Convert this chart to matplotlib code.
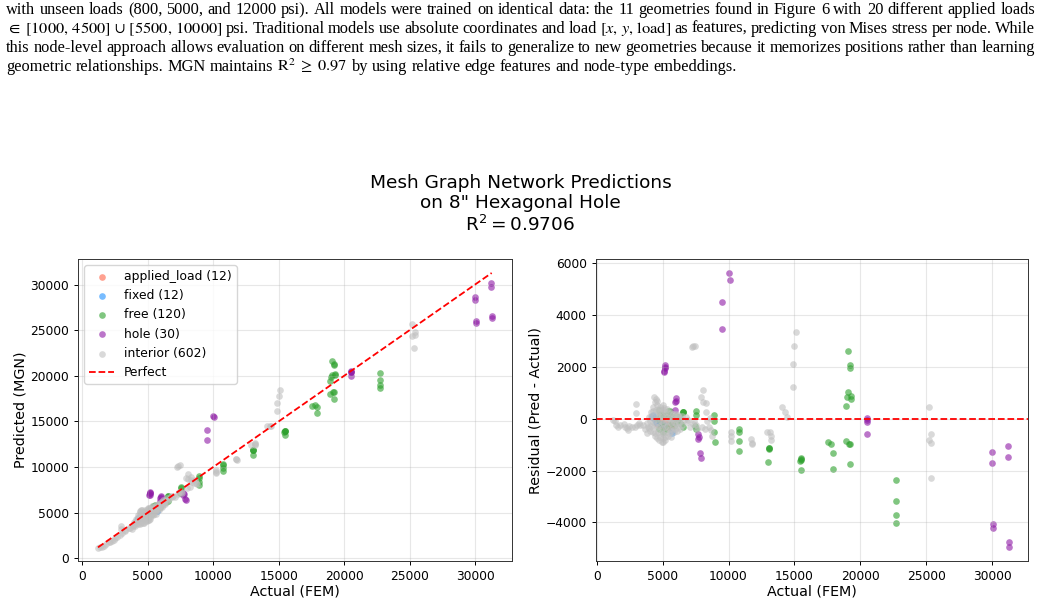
import matplotlib
matplotlib.use("Agg")
import matplotlib.pyplot as plt
import numpy as np

# ---------------- data (actual FEM stress, residual = predicted - actual) ----------------
categories = ["applied_load", "fixed", "free", "hole", "interior"]
node_counts = [12, 12, 120, 30, 602]
colors = ["tomato", "dodgerblue", "#2ca02c", "#8e1aa6", "silver"]

applied_actual = [4600, 4700, 4800, 4900, 5000, 5100, 5200, 5300, 5400, 5500, 5600, 5700]
applied_resid = [-200, -150, -250, -100, -200, -300, -150, -250, -200, -350, -300, -250]

fixed_actual = [4170, 4230, 4280, 4320, 4380, 4450, 4520, 4600, 4850, 5100, 5700, 5730]
fixed_resid = [50, 120, 150, 80, 20, -40, -120, -180, -220, -260, -480, -560]

free_actual = [19040, 19240, 19240, 19040, 18990, 19290, 18940, 19320,
               6530, 6510, 7520, 7520, 8910, 8910, 8910, 8940,
               10760, 10760, 10780, 10780,
               13040, 13040, 13010, 13060,
               15470, 15520, 15420, 15490, 15500,
               17570, 17750, 17900, 17900,
               18910, 19160, 19240, 19190,
               22710, 22710, 22730, 22730,
               6570, 7480, 7540, 4750, 5380, 5560, 6520,
               4800, 5000, 5200, 5400, 5600, 5800, 6000, 6200, 4600, 4900,
               5100, 5300, 5500, 5700, 5900, 6100, 6300, 6400, 4700, 5000]
free_resid = [2610, 2070, 1940, 1040, 850, 890, 490, 750,
              270, 250, 310, 150, 140, -80, -530, -910,
              -410, -530, -850, -1240,
              -1120, -1170, -1670, -1150,
              -1520, -1580, -1620, -1990, -1550,
              -890, -990, -1330, -1940,
              -860, -990, -990, -1760,
              -2380, -3180, -3720, -4040,
              -310, -300, -400, 335, 310, 310, 270,
              200, 150, 100, 200, 100, 50, 100, 0, 0, -200,
              -300, -400, -250, -150, -300, -100, 50, -200, -400, -500]

hole_actual = [10000, 10080, 9540, 9540, 5190, 5190, 5110, 5140, 6000, 5950,
               5970, 7720, 7740, 7720, 7870, 7920, 20530, 20530, 20520, 29980,
               29980, 30050, 30050, 31190, 31190, 31270, 31270, 20530, 6010, 5180]
hole_resid = [5640, 5370, 4490, 3470, 2070, 1940, 1810, 1840, 790, 650,
              330, -590, -700, -780, -1320, -1510, 20, -130, -580, -1300,
              -1720, -4080, -4230, -1040, -1470, -4750, -4960, -60, 700, 1990]

interior_actual = [
    1200, 1370, 1470, 1650, 1800, 2030, 2150, 2280, 2400, 2470, 2660, 2910, 2980, 2990,
    3040, 3230, 3290, 3540, 3650, 3800, 3900,
    7220, 7320, 7440,
    8080, 7930, 8080, 8290, 8290, 7980, 8240, 8540, 8670, 8770, 8400, 8600,
    10180, 10180, 10200, 11720, 11760, 11780, 12910, 13170, 13190, 13190,
    15090, 14990, 14890, 14890, 14080, 14300, 14430,
    25190, 25390, 25190, 25390, 25370,
    6820, 7280, 7530, 7600, 7100, 6900, 7400,
    4370, 4500, 4570, 4430,
    4560, 4800, 5000, 5100, 4240, 5300, 4700,
    4100, 4300, 4500, 4650, 4900, 5050, 5200, 5400, 5600, 5800, 6000, 6200, 6450,
    3950, 4150, 4350, 4550, 4750, 4950, 5150, 5350, 5550, 5750, 5950, 6150, 6350, 6600, 6750,
    3850, 4050, 4250, 4450, 4650, 4850, 5050, 5250, 5450, 5650, 5850, 6050, 6250, 6500,
    3950, 4150, 4350, 4550, 4750, 4950, 5150, 5350, 5550, 5750, 5950, 6150, 6350,
    4050, 4250, 4450, 4650, 4850, 5050, 5250, 5450, 5650, 5850, 6100,
    4400, 4600, 4800, 5000, 5200, 5400, 5600,
    4700, 4950, 5060, 5150]
interior_resid = [
    -60, -100, -240, -310, -260, -210, -330, -370, -440, -300, -310, -330, 570, 210,
    -240, -180, -260, -240, -380, -570, -330,
    2750, 2790, 2820,
    1110, 850, 660, 590, 270, -310, -410, -310, -440, -670, -80, 30,
    -530, -670, -860, -800, -930, -990, -530, -510, -670, -820,
    3360, 2790, 2110, 1240, 460, 240, 80,
    460, -580, -820, -950, -2280,
    -120, -210, -240, -400, -330, -50, -100,
    850, 760, 700, 660,
    530, 460, 530, 420, 460, 380, 380,
    250, 300, 320, 280, 300, 330, 250, 270, 230, 180, 200, 150, 120,
    50, 120, 80, 150, 100, 120, 90, 60, 40, 20, -20, 40, -10, -60, 60,
    -150, -80, -120, -60, -110, -70, -150, -90, -130, -180, -120, -200, -150, -230,
    -350, -300, -280, -330, -290, -360, -310, -270, -380, -320, -400, -330, -380,
    -480, -520, -560, -500, -540, -600, -510, -560, -470, -520, -460,
    -680, -740, -700, -760, -720, -650, -700,
    -820, -880, -890, -840]

x_ticks = [0, 5000, 10000, 15000, 20000, 25000, 30000]
resid_ticks = [-4000, -2000, 0, 2000, 4000, 6000]

title_text = 'Mesh Graph Network Predictions\non 8" Hexagonal Hole\n$\\mathrm{R}^2 = 0.9706$'

paper_lines = [
    "with unseen loads (800, 5000, and 12000 psi). All models were trained on identical data: the 11 geometries found in Figure 6 with 20 different applied loads",
    "$\\in\\;[1000,\\,4500]\\,\\cup\\,[5500,\\,10000]$ psi. Traditional models use absolute coordinates and load $[x,\\,y,\\,\\mathrm{load}]$ as features, predicting von Mises stress per node. While",
    "this node-level approach allows evaluation on different mesh sizes, it fails to generalize to new geometries because it memorizes positions rather than learning",
    "geometric relationships. MGN maintains $\\mathrm{R}^2\\;\\geq\\;0.97$ by using relative edge features and node-type embeddings.",
]

# ---------------- figure ----------------
W, H = 1041, 604
fig = plt.figure(figsize=(W / 100, H / 100), dpi=100)
fig.patch.set_facecolor("white")

def fx(x):
    return x / W

def fy(y):
    return 1 - y / H

renderer = fig.canvas.get_renderer()

# paper text (justified)
baselines = [14, 33, 52, 71]
x0, x1 = 6, 1035

def make_words(line, fs):
    ts = []
    for w in line.split(" "):
        t = fig.text(0, 0, w, fontsize=fs, family="Liberation Serif",
                     math_fontfamily="stix", va="baseline", ha="left", color="black")
        ts.append(t)
    return ts

probe = make_words(paper_lines[3], 10)
wsum = sum(t.get_window_extent(renderer).width for t in probe)
n = len(probe)
space10 = 0.25 * 10 * 100 / 72
natural = wsum + space10 * (n - 1)
for t in probe:
    t.remove()
fs = 10 * 732 / natural

for i, line in enumerate(paper_lines):
    ts = make_words(line, fs)
    widths = [t.get_window_extent(renderer).width for t in ts]
    if i < 3:
        gap = (x1 - x0 - sum(widths)) / (len(ts) - 1)
    else:
        gap = 0.25 * fs * 100 / 72
    x = x0
    for t, w in zip(ts, widths):
        t.set_position((fx(x), fy(baselines[i])))
        x += w + gap

# title
fig.text(0.5, fy(174), title_text, ha="center", va="top", fontsize=13.3,
         linespacing=1.15)

ax1 = fig.add_axes([fx(78.3), fy(561.3), (511.7 - 78.3) / W, (561.3 - 259) / H])
ax2 = fig.add_axes([fx(595.7), fy(561), (1028.3 - 595.7) / W, (561 - 259.3) / H])

data = [
    (applied_actual, applied_resid),
    (fixed_actual, fixed_resid),
    (free_actual, free_resid),
    (hole_actual, hole_resid),
    (interior_actual, interior_resid),
]

all_actual = []
for (act, res), name, cnt, col in zip(data, categories, node_counts, colors):
    act = np.asarray(act, float)
    res = np.asarray(res, float)
    pred = act + res
    all_actual.extend(act)
    ax1.scatter(act, pred, s=23, color=col, alpha=0.6, linewidths=0,
                label=f"{name} ({cnt})")
    ax2.scatter(act, res, s=23, color=col, alpha=0.6, linewidths=0)

lo, hi = min(all_actual), max(all_actual)
ax1.plot([lo, hi], [lo, hi], "r--", lw=1.3, label="Perfect")
ax2.axhline(0, color="red", ls="--", lw=1.3)

ax1.set_xlim(-305, 32800)
ax1.set_ylim(-330, 32800)
ax2.set_xlim(-80, 32750)
ax2.set_ylim(-5494, 6155)

ax1.set_xticks(x_ticks)
ax1.set_yticks(x_ticks)
ax2.set_xticks(x_ticks)
ax2.set_yticks(resid_ticks)

for ax in (ax1, ax2):
    ax.grid(True, alpha=0.3)
    ax.tick_params(labelsize=8.8, width=0.7, length=3)
    for s in ax.spines.values():
        s.set_linewidth(0.7)
        s.set_color("#333333")
    ax.set_xlabel("Actual (FEM)", fontsize=10.3, labelpad=1)

ax1.set_ylabel("Predicted (MGN)", fontsize=10.3, labelpad=2)
ax2.set_ylabel("Residual (Pred - Actual)", fontsize=10.3, labelpad=2)

ax1.legend(loc="upper left", fontsize=8.9, framealpha=0.8)

fig.savefig("out.png", dpi=100)
